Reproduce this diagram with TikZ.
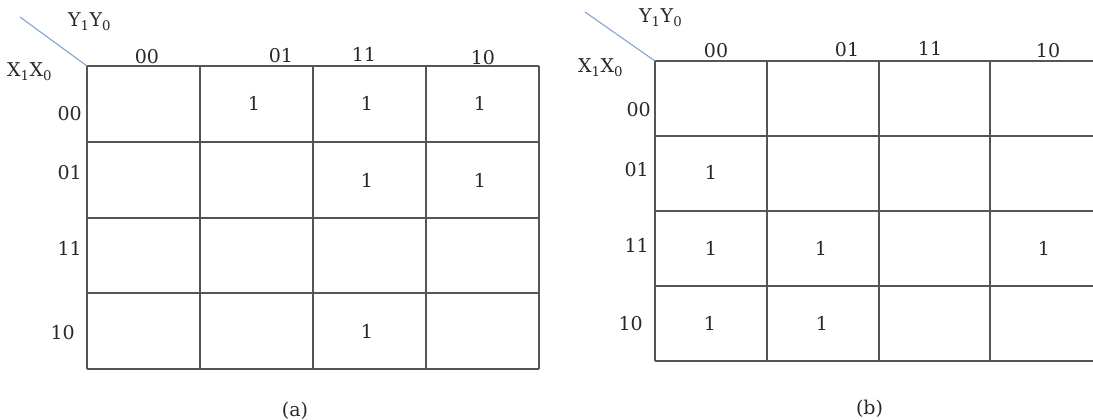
\documentclass[tikz,border=0pt]{standalone}
\usepackage{fontspec}
\setmainfont{DejaVu Serif}
\definecolor{gridc}{RGB}{85,85,85}
\definecolor{txtc}{RGB}{40,40,40}
\definecolor{diagc}{RGB}{130,165,210}
\begin{document}
\begin{tikzpicture}[x=1pt,y=-1pt,
  gridline/.style={draw=gridc, line width=1.6pt},
  diagline/.style={draw=diagc, line width=1.1pt},
  lbl/.style={font=\fontsize{19}{22}\selectfont, text=txtc, inner sep=0pt},
  one/.style={lbl},
]
\useasboundingbox (0,0) rectangle (1093,420);
\clip (0,0) rectangle (1093,420);

% ---------- (a) ----------
\foreach \x in {87,200,313,426,539} \draw[gridline] (\x,66) -- (\x,369);
\foreach \y in {66,142,218,293,369} \draw[gridline] (87,\y) -- (539,\y);
\coordinate (ca) at (87,66);
\coordinate (da) at (20,17);
\draw[diagline] (da) -- (ca);

\node[lbl, anchor=base west] (ya) at (68,27) {Y\textsubscript{1}Y\textsubscript{0}};
\node[lbl, anchor=base west] (xa) at (7,77) {X\textsubscript{1}X\textsubscript{0}};

\node[lbl, anchor=base] (ca00) at (147,64) {00};
\node[lbl, anchor=base] (ca01) at (281,63) {01};
\node[lbl, anchor=base] (ca11) at (364,62) {11};
\node[lbl, anchor=base] (ca10) at (483,65) {10};

\node[lbl, anchor=east] (ra00) at (82,114) {00};
\node[lbl, anchor=east] (ra01) at (82,173) {01};
\node[lbl, anchor=east] (ra11) at (82,248) {11};
\node[lbl, anchor=east] (ra10) at (75,333) {10};

\node[one] (a1) at (254,103) {1};
\node[one] (a2) at (367,103) {1};
\node[one] (a3) at (480,103) {1};
\node[one] (a4) at (367,180) {1};
\node[one] (a5) at (480,180) {1};
\node[one] (a6) at (367,331) {1};

\node[lbl] (capa) at (295,411) {(a)};

% ---------- (b) ----------
\foreach \x in {655,767,879,990} \draw[gridline] (\x,61) -- (\x,361);
\foreach \y in {61,136,211,286,361} \draw[gridline] (655,\y) -- (1100,\y);
\coordinate (cb) at (655,61);
\coordinate (db) at (585,12);
\draw[diagline] (db) -- (cb);

\node[lbl, anchor=base west] (yb) at (639,23) {Y\textsubscript{1}Y\textsubscript{0}};
\node[lbl, anchor=base west] (xb) at (578,73) {X\textsubscript{1}X\textsubscript{0}};

\node[lbl, anchor=base] (cb00) at (716,58) {00};
\node[lbl, anchor=base] (cb01) at (847,57) {01};
\node[lbl, anchor=base] (cb11) at (930,56) {11};
\node[lbl, anchor=base] (cb10) at (1048,58) {10};

\node[lbl, anchor=east] (rb00) at (651,109.5) {00};
\node[lbl, anchor=east] (rb01) at (649,170) {01};
\node[lbl, anchor=east] (rb11) at (649,245) {11};
\node[lbl, anchor=east] (rb10) at (643,324) {10};

\node[one] (b1) at (711,172) {1};
\node[one] (b2) at (711,248) {1};
\node[one] (b3) at (821,248) {1};
\node[one] (b4) at (1044,248) {1};
\node[one] (b5) at (710,323) {1};
\node[one] (b6) at (822,323) {1};

\node[lbl] (capb) at (869.5,409) {(b)};
\end{tikzpicture}
\end{document}
